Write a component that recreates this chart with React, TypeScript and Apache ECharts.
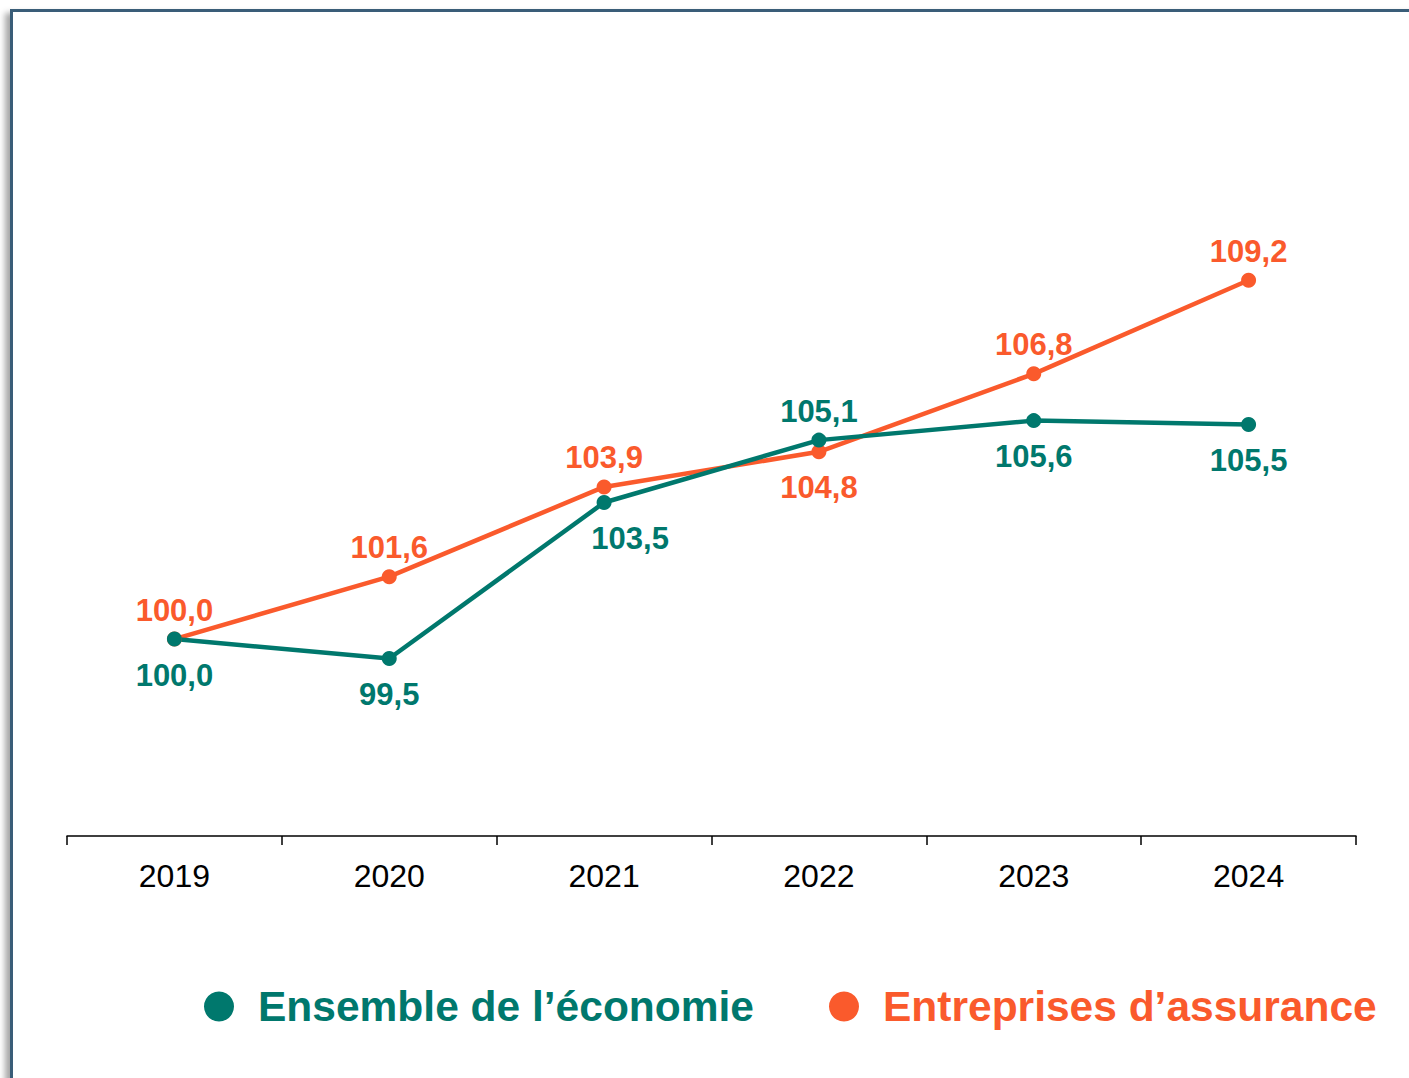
import React, { useEffect, useRef } from "react";
import * as echarts from "echarts";

const years = ["2019", "2020", "2021", "2022", "2023", "2024"];
const economie = [100.0, 99.5, 103.5, 105.1, 105.6, 105.5];
const assurance = [100.0, 101.6, 103.9, 104.8, 106.8, 109.2];
const economiePos = ["bottom", "bottom", "bottom", "top", "bottom", "bottom"];
const assurancePos = ["top", "top", "top", "bottom", "top", "top"];
const economieName = "Ensemble de l\u2019économie";
const assuranceName = "Entreprises d\u2019assurance";

const TEAL = "#00786D";
const ORANGE = "#FA5A2C";
const FONT = "'Liberation Sans', Arial, Helvetica, sans-serif";

const fmt = (v: number) => v.toFixed(1).replace(".", ",");

export default function App() {
  const ref = useRef<HTMLDivElement>(null);
  useEffect(() => {
    document.body.style.margin = "0";
    const chart = echarts.init(ref.current!, null, { renderer: "svg" });
    const mkData = (vals: number[], pos: string[], offsets: Record<number, number[]>) =>
      vals.map((v, i) => ({
        value: v,
        label: {
          position: pos[i],
          distance: pos[i] === "top" ? 6 : 13,
          offset: offsets[i] || [0, 0],
        },
      }));
    chart.setOption({
      animation: false,
      textStyle: { fontFamily: FONT },
      grid: { left: 67, right: 53, top: 54, bottom: 242 },
      legend: {
        top: 985,
        left: 204,
        padding: 0,
        itemWidth: 30,
        itemHeight: 30,
        itemGap: 75,
        icon: "circle",
        data: [
          { name: economieName, textStyle: { color: TEAL } },
          { name: assuranceName, textStyle: { color: ORANGE } },
        ],
        textStyle: {
          fontSize: 42.5,
          fontWeight: "bold",
          fontFamily: FONT,
          padding: [0, 0, 0, 19],
        },
      },
      xAxis: {
        type: "category",
        data: years,
        boundaryGap: true,
        axisLine: { lineStyle: { color: "#000", width: 1.5 } },
        axisTick: { show: true, length: 9, lineStyle: { color: "#000", width: 1.5 } },
        axisLabel: { color: "#000", fontSize: 32, margin: 24, fontFamily: FONT },
        splitLine: { show: false },
      },
      yAxis: {
        type: "value",
        min: 94.95,
        max: 115,
        show: false,
        splitLine: { show: false },
      },
      series: [
        {
          name: assuranceName,
          type: "line",
          data: mkData(assurance, assurancePos, {}),
          color: ORANGE,
          symbol: "circle",
          symbolSize: 15,
          lineStyle: { width: 4.5, color: ORANGE },
          itemStyle: { color: ORANGE },
          label: {
            show: true,
            formatter: (p: any) => fmt(p.value),
            color: ORANGE,
            fontSize: 31,
            fontWeight: "bold",
            fontFamily: FONT,
          },
        },
        {
          name: economieName,
          type: "line",
          data: mkData(economie, economiePos, { 2: [26, 0] }),
          color: TEAL,
          symbol: "circle",
          symbolSize: 15,
          lineStyle: { width: 4.5, color: TEAL },
          itemStyle: { color: TEAL },
          label: {
            show: true,
            formatter: (p: any) => fmt(p.value),
            color: TEAL,
            fontSize: 31,
            fontWeight: "bold",
            fontFamily: FONT,
          },
        },
      ],
    });
    return () => chart.dispose();
  }, []);

  return (
    <div
      style={{
        position: "absolute",
        left: 0,
        top: 0,
        width: 1409,
        height: 1078,
        overflow: "hidden",
        background: "#fff",
      }}
    >
      <div
        style={{
          position: "absolute",
          left: 10,
          top: 9,
          width: 1600,
          height: 1300,
          borderTop: "3px solid #3a5d78",
          borderLeft: "3px solid #3a5d78",
          boxShadow: "-5px 4px 6px rgba(0,0,0,0.35)",
          background: "#fff",
        }}
      />
      <div
        ref={ref}
        style={{ position: "absolute", left: 0, top: 0, width: 1409, height: 1078 }}
      />
    </div>
  );
}
